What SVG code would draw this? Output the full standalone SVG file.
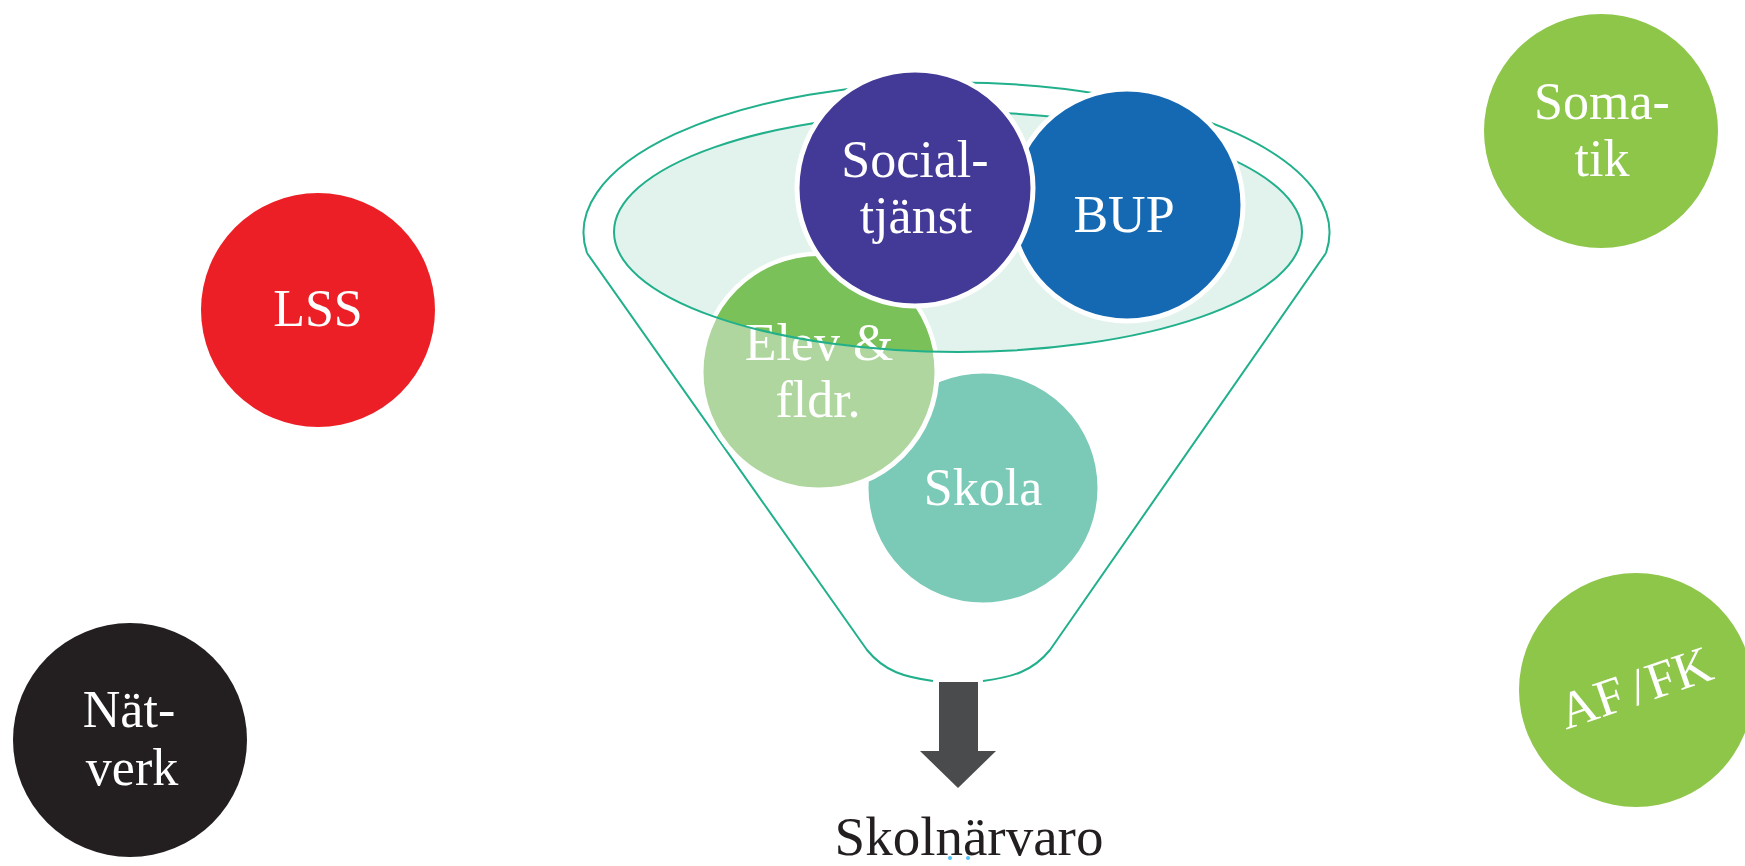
<svg xmlns="http://www.w3.org/2000/svg" width="1745" height="866" viewBox="0 0 1745 866">
<style>
.lbl{font-family:"Liberation Serif","Times New Roman",serif;font-size:52px;fill:#ffffff;text-anchor:middle}
.rim{fill:none;stroke:#21b08b;stroke-width:2}
.ws{stroke:#ffffff;stroke-width:5}
</style>
<defs>
<clipPath id="inner"><ellipse cx="958" cy="232" rx="344" ry="120"/></clipPath>
</defs>
<rect width="1745" height="866" fill="#ffffff"/>
<g id="funnel">
<path class="rim" d="M587,253 A373,150 0 1 1 1326,253"/>
<path class="rim" d="M587,253 L867,650 C885,672 905,677 933,681"/>
<path class="rim" d="M1326,253 L1050,650 C1032,672 1012,677 983,681"/>
<ellipse cx="958" cy="232" rx="344" ry="120" fill="#e2f3ed"/>
</g>
<g id="skola">
<circle cx="983" cy="488" r="117" fill="#7bcab8" class="ws"/>
<text class="lbl" x="983" y="505">Skola</text>
</g>
<g id="elev">
<circle cx="819" cy="372" r="118" fill="#aed69e" class="ws"/>
<circle cx="819" cy="372" r="116" fill="#7ac15a" clip-path="url(#inner)"/>
<text class="lbl" x="819" y="360">Elev &amp;</text>
<text class="lbl" x="818" y="417">fldr.</text>
</g>
<g id="inner-rim">
<ellipse class="rim" cx="958" cy="232" rx="344" ry="120"/>
</g>
<g id="bup">
<circle cx="1127" cy="205" r="116" fill="#1569b3" class="ws"/>
<text class="lbl" x="1124" y="232">BUP</text>
</g>
<g id="social">
<circle cx="915" cy="188" r="118" fill="#433996" class="ws"/>
<text class="lbl" x="915" y="177">Social-</text>
<text class="lbl" x="916" y="233">tjänst</text>
</g>
<g id="lss">
<circle cx="318" cy="310" r="117" fill="#ed1f26"/>
<text class="lbl" x="318" y="326">LSS</text>
</g>
<g id="natverk">
<circle cx="130" cy="740" r="117" fill="#231f20"/>
<text class="lbl" x="129" y="727">Nät-</text>
<text class="lbl" x="132" y="785">verk</text>
</g>
<g id="somatik">
<circle cx="1601" cy="131" r="117" fill="#8dc649"/>
<text class="lbl" x="1602" y="119">Soma-</text>
<text class="lbl" x="1602" y="176">tik</text>
</g>
<g id="affk">
<circle cx="1636" cy="690" r="117" fill="#8dc649"/>
<text class="lbl" x="1641" y="704" transform="rotate(-19 1641 704)">AF<tspan dx="8">/</tspan><tspan dx="3">FK</tspan></text>
</g>
<g id="connectors">
<polygon points="939,682 978,682 978,751 996,751 958,788 920,751 939,751" fill="#4a4b4d"/>
</g>
<g id="result">
<text x="969" y="855" font-family="Liberation Serif, Times New Roman, serif" font-size="55" fill="#231f20" text-anchor="middle">Skolnärvaro</text>
<circle cx="950" cy="858" r="2" fill="#4fc3f7"/>
<circle cx="968" cy="858" r="2" fill="#4fc3f7"/>
</g>
</svg>
